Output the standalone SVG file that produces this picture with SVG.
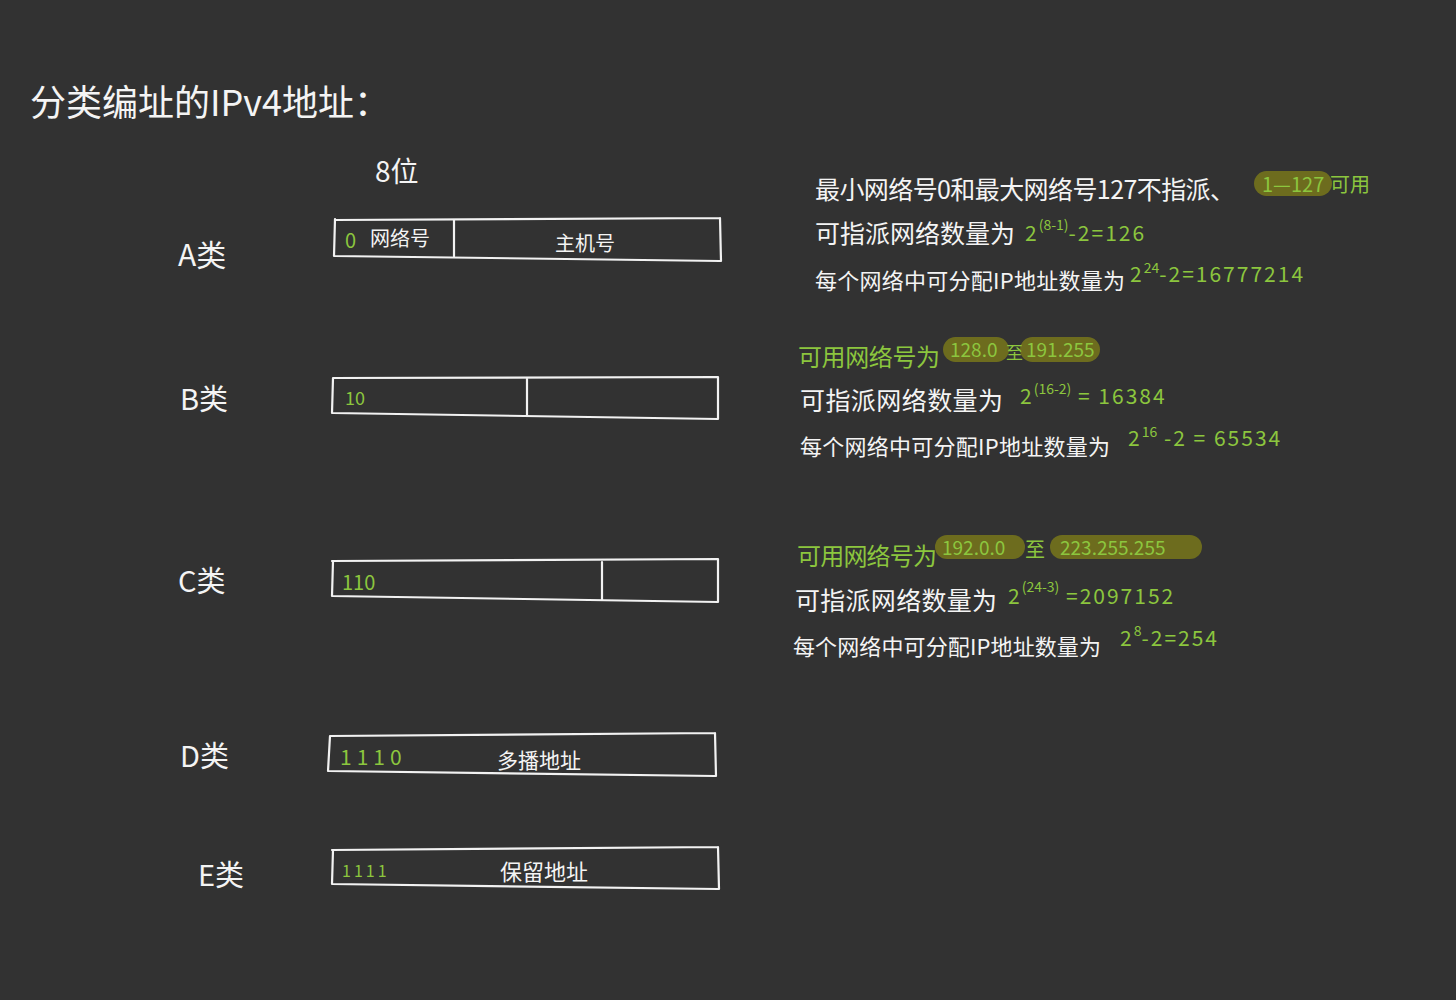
<svg xmlns="http://www.w3.org/2000/svg" width="1456" height="1000" viewBox="0 0 1456 1000">
<defs>
<style>
.w{fill:#f4f4f4;font-family:"Noto Sans CJK SC","Liberation Sans",sans-serif}
.g{fill:#8cc63e;font-family:"Noto Sans CJK SC","Liberation Sans",sans-serif}
.f{font-size:21px;letter-spacing:2px}
.box{fill:none;stroke:#f2f2f2;stroke-width:2.2;stroke-linecap:round;stroke-linejoin:round}
.pill{fill:#6d6c1e}
.sup{font-size:14px;letter-spacing:0}
</style>
</defs>
<rect x="0" y="0" width="1456" height="1000" fill="#323232"/>

<g id="title">
<text class="w" x="30" y="116" font-size="36" textLength="360">分类编址的IPv4地址：</text>
<text class="w" x="375" y="182" font-size="28">8位</text>
</g>

<g id="labels">
<text class="w" x="178" y="266" font-size="30">A类</text>
<text class="w" x="180" y="410" font-size="29">B类</text>
<text class="w" x="178" y="592" font-size="29">C类</text>
<text class="w" x="180" y="767" font-size="29">D类</text>
<text class="w" x="198" y="886" font-size="29">E类</text>
</g>

<g id="boxA">
<path class="box" d="M335 220 L720 218 M335 256 L720 261 M335 219 L334 256 M720 218 L721 261 M454 220 L454 256"/>
<text class="g" x="345" y="248" font-size="20">0</text>
<text class="w" x="370" y="246" font-size="20">网络号</text>
<text class="w" x="555" y="251" font-size="20">主机号</text>
</g>

<g id="boxB">
<path class="box" d="M333 378 L718 377 M333 413 L718 419 M333 378 L332 413 M718 377 L718 419 M527 378 L527 416"/>
<text class="g" x="345" y="405" font-size="18">10</text>
</g>

<g id="boxC">
<path class="box" d="M332 561 L718 559 M332 596 L718 602 M333 561 L332 596 M718 559 L718 602 M602 562 L602 600"/>
<text class="g" x="342" y="590" font-size="20">110</text>
</g>

<g id="boxD">
<path class="box" d="M330 736 L715 733 M329 771 L715 776 M330 736 L328 771 M715 733 L716 776"/>
<text class="g" x="340" y="765" font-size="21" letter-spacing="5">1110</text>
<text class="w" x="497" y="768" font-size="21">多播地址</text>
</g>

<g id="boxE">
<path class="box" d="M332 850 L718 847 M332 884 L718 889 M333 850 L332 884 M718 847 L719 889"/>
<text class="g" x="342" y="877" font-size="16" letter-spacing="3">1111</text>
<text class="w" x="500" y="880" font-size="22">保留地址</text>
</g>

<g id="notesA">
<rect class="pill" x="1254" y="171" width="78" height="25" rx="12.5"/>
<text class="w" x="815" y="199" font-size="25" textLength="420">最小网络号0和最大网络号127不指派、</text>
<text class="g" x="1262" y="192" font-size="20">1—127</text>
<text class="g" x="1330" y="192" font-size="20">可用</text>
<text class="w" x="815" y="243" font-size="25" textLength="200">可指派网络数量为</text>
<text class="g f" x="1025" y="241">2<tspan class="sup" dy="-11">(8-1)</tspan><tspan dy="11">-2=126</tspan></text>
<text class="w" x="815" y="289" font-size="22" textLength="310">每个网络中可分配IP地址数量为</text>
<text class="g f" x="1130" y="282">2<tspan class="sup" dy="-9">24</tspan><tspan dy="9">-2=16777214</tspan></text>
</g>

<g id="notesB">
<rect class="pill" x="943" y="337" width="66" height="25" rx="12.5"/>
<rect class="pill" x="1020" y="337" width="80" height="25" rx="12.5"/>
<text class="g" x="798" y="366" font-size="24" textLength="142">可用网络号为</text>
<text class="g" x="950" y="357" font-size="19">128.0</text>
<text class="g" x="1006" y="359" font-size="17">至</text>
<text class="g" x="1026" y="357" font-size="19">191.255</text>
<text class="w" x="800" y="410" font-size="25" textLength="203">可指派网络数量为</text>
<text class="g f" x="1020" y="404">2<tspan class="sup" dy="-10">(16-2)</tspan><tspan dy="10"> = 16384</tspan></text>
<text class="w" x="800" y="455" font-size="22" textLength="310">每个网络中可分配IP地址数量为</text>
<text class="g f" x="1128" y="446">2<tspan class="sup" dy="-9">16</tspan><tspan dy="9"> -2 = 65534</tspan></text>
</g>

<g id="notesC">
<rect class="pill" x="935" y="535" width="90" height="24" rx="12"/>
<rect class="pill" x="1050" y="535" width="152" height="24" rx="12"/>
<text class="g" x="797" y="565" font-size="24" textLength="140">可用网络号为</text>
<text class="g" x="942" y="555" font-size="19">192.0.0</text>
<text class="g" x="1025" y="557" font-size="20">至</text>
<text class="g" x="1060" y="555" font-size="19">223.255.255</text>
<text class="w" x="795" y="610" font-size="25" textLength="202">可指派网络数量为</text>
<text class="g f" x="1008" y="604">2<tspan class="sup" dy="-12">(24-3)</tspan><tspan dy="12"> =2097152</tspan></text>
<text class="w" x="793" y="655" font-size="22" textLength="308">每个网络中可分配IP地址数量为</text>
<text class="g f" x="1120" y="646">2<tspan class="sup" dy="-10">8</tspan><tspan dy="10">-2=254</tspan></text>
</g>
</svg>
